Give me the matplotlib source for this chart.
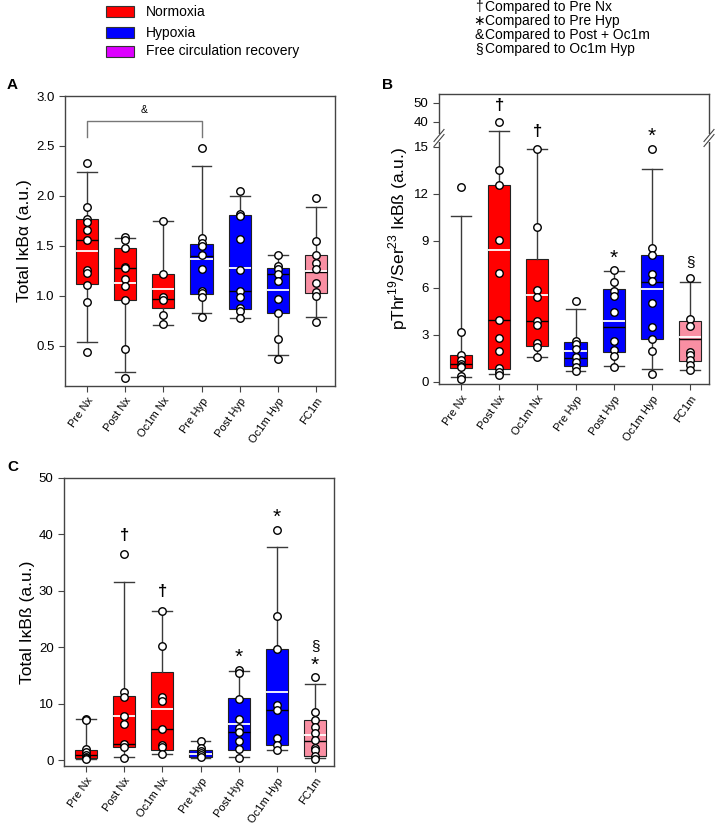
import numpy as np
import matplotlib
matplotlib.use("Agg")
import matplotlib.pyplot as plt
from matplotlib.patches import Rectangle

plt.rcParams['font.family'] = ['Liberation Sans', 'DejaVu Sans']
plt.rcParams['mathtext.fontset'] = 'custom'
plt.rcParams['mathtext.rm'] = 'Liberation Sans'

groups = ['Pre Nx', 'Post Nx', 'Oc1m Nx', 'Pre Hyp', 'Post Hyp', 'Oc1m Hyp', 'FC1m']
nan = np.nan

# ---- panel A: total IkBa ----
a_points = [
    [2.33, 1.89, 1.77, 1.74, 1.66, 1.56, 1.26, 1.23, 1.11, 0.94, 0.44],
    [1.59, 1.56, 1.48, 1.29, 1.28, 1.17, 1.10, 0.96, 0.47, 0.18],
    [1.75, 1.22, 0.99, 0.96, 0.81, 0.72],
    [2.48, 1.58, 1.53, 1.50, 1.41, 1.27, 1.05, 1.03, 0.99, 0.79],
    [2.05, 1.82, 1.80, 1.57, 1.26, 1.05, 0.99, 0.88, 0.85, 0.78],
    [1.41, 1.30, 1.27, 1.22, 1.15, 0.97, 0.83, 0.57, 0.37],
    [1.98, 1.55, 1.41, 1.33, 1.27, 1.13, 1.04, 1.00, 0.74],
]
a_q1 = [1.12, 0.96, 0.88, 1.02, 0.87, 0.83, 1.03]
a_q3 = [1.77, 1.48, 1.22, 1.52, 1.81, 1.28, 1.41]
a_med = [1.56, 1.28, 0.97, 1.40, 1.05, 1.22, 1.24]
a_mean = [1.45, 1.13, 1.07, 1.37, 1.28, 1.06, 1.25]
a_lo = [0.54, 0.24, 0.71, 0.83, 0.78, 0.41, 0.79]
a_hi = [2.24, 1.58, 1.75, 2.30, 2.00, 1.41, 1.89]

# ---- panel B: pThr19/Ser23 IkBb ----
b_points = [
    [12.45, 3.2, 1.70, 1.42, 1.15, 1.05, 0.95, 0.40, 0.22],
    [40.0, 13.5, 12.55, 9.08, 6.93, 3.96, 2.81, 1.98, 0.90, 0.66, 0.45],
    [14.9, 9.91, 5.89, 5.45, 3.91, 3.64, 2.47, 2.21, 1.57],
    [5.15, 2.60, 2.45, 2.08, 1.60, 1.30, 0.98, 0.72],
    [7.13, 6.40, 5.79, 5.49, 4.45, 2.60, 2.04, 1.68, 0.98],
    [14.9, 8.57, 8.10, 6.87, 6.45, 5.06, 3.53, 2.74, 2.00, 0.51],
    [6.62, 4.00, 3.60, 1.89, 1.75, 1.40, 1.10, 0.77],
]
b_q1 = [0.92, 0.85, 2.30, 1.04, 1.89, 2.74, 1.36]
b_q3 = [1.70, 12.55, 7.87, 2.57, 5.93, 8.10, 3.91]
b_med = [1.13, 3.96, 3.91, 1.55, 3.49, 6.40, 2.74]
b_mean = [nan, 8.40, 5.55, 2.00, 3.89, 5.93, 2.89]
b_lo = [0.30, 0.51, 1.57, 0.72, 1.04, 0.81, 0.77]
b_hi = [10.6, 35.0, 14.9, 4.64, 7.10, 13.57, 6.36]

# ---- panel C: total IkBb ----
c_points = [
    [7.3, 7.1, 2.0, 1.4, 0.82, 0.5, 0.3, 0.1],
    [36.5, 12.0, 11.1, 7.86, 6.3, 2.9, 2.3, 0.3],
    [26.5, 20.25, 11.15, 10.4, 5.57, 2.7, 2.23, 1.06],
    [3.3, 2.1, 1.6, 1.3, 0.9, 0.45],
    [16.0, 15.4, 10.9, 7.34, 5.63, 4.9, 3.29, 1.94, 0.35],
    [40.7, 25.6, 19.7, 9.74, 8.9, 3.87, 2.7, 1.7],
    [14.7, 8.57, 7.1, 5.93, 4.75, 3.55, 2.1, 1.82, 0.64, 0.25],
]
c_q1 = [0.35, 2.23, 1.70, 0.47, 1.82, 2.70, 0.64]
c_q3 = [1.76, 11.33, 15.6, 1.70, 10.92, 19.7, 7.10]
c_med = [0.82, 2.88, 5.57, 1.20, 4.93, 8.92, 3.40]
c_mean = [nan, 7.86, 8.98, 1.10, 6.34, 12.09, 4.46]
c_lo = [0.2, 0.6, 1.06, 0.4, 0.47, 1.7, 0.3]
c_hi = [7.22, 31.6, 26.5, 3.29, 15.8, 37.7, 13.4]

# significance marks: (group index, symbol, offset above top point in px)
b_marks = [(1, '†', 16), (2, '†', 17), (4, '*', 12), (5, '*', 12), (6, '§', 16)]
c_marks = [(1, '†', 19), (2, '†', 19), (4, '*', 12), (5, '*', 13), (6, '*', 12), (6, '§', 31)]

box_colors = ['#FF0000', '#FF0000', '#FF0000', '#0000FF', '#0000FF', '#0000FF', '#F98FA3']
legend_labels = ['Normoxia', 'Hypoxia', 'Free circulation recovery']
legend_colors = ['#FF0000', '#0000FF', '#DD00FF']
note_symbols = ['†', '∗', '&', '§']
note_texts = ['Compared to Pre Nx', 'Compared to Pre Hyp', 'Compared to Post + Oc1m', 'Compared to Oc1m Hyp']

W, H = 715, 825
spine_col = '#444444'


def draw_boxes(ax, points, q1, q3, med, mean, lo, hi):
    pos = np.arange(1, len(groups) + 1)
    stats = []
    for i in range(len(groups)):
        stats.append(dict(med=med[i], q1=q1[i], q3=q3[i], whislo=lo[i], whishi=hi[i],
                          mean=mean[i], fliers=[]))
    bp = ax.bxp(stats, positions=pos, widths=0.58, capwidths=0.52, patch_artist=True,
                showmeans=True, meanline=True, showfliers=False,
                boxprops=dict(edgecolor='#222222', linewidth=0.8),
                whiskerprops=dict(color='#3a3a3a', linewidth=1.0),
                capprops=dict(color='#3a3a3a', linewidth=1.0),
                medianprops=dict(color='black', linewidth=1.0),
                meanprops=dict(color='white', linewidth=1.3, linestyle='-'))
    for patch, c in zip(bp['boxes'], box_colors):
        patch.set_facecolor(c)
    for i, vals in enumerate(points):
        ax.plot(np.full(len(vals), pos[i]), vals, 'o', ms=5.4, mfc='white', mec='black',
                mew=1.0, zorder=4, clip_on=False)
    ax.set_xlim(0.42, 7.5)
    ax.set_xticks(pos)
    ax.set_xticklabels(groups, rotation=55, ha='right', rotation_mode='anchor')
    ax.tick_params(direction='out', length=4, width=0.8, colors=spine_col, labelcolor='black',
                   labelsize=9.5)
    ax.tick_params(axis='x', labelsize=8, pad=3)
    for s in ax.spines.values():
        s.set_color(spine_col)
        s.set_linewidth(1.0)


def add_marks(ax, points, marks):
    for gi, sym, off in marks:
        if sym == '*':
            size, weight = 15, 'normal'
        elif sym == '†':
            size, weight = 12, 'bold'
        else:
            size, weight = 11, 'normal'
        ax.annotate(sym, xy=(gi + 1, max(points[gi])), xytext=(0, off),
                    textcoords='offset pixels', ha='center', va='center',
                    fontsize=size, fontweight=weight, annotation_clip=False)


fig = plt.figure(figsize=(W / 100, H / 100), dpi=100)


def px_axes(x0, y0, x1, y1):
    return fig.add_axes([x0 / W, 1 - y1 / H, (x1 - x0) / W, (y1 - y0) / H])


# panel A
axA = px_axes(65, 96, 335, 386)
draw_boxes(axA, a_points, a_q1, a_q3, a_med, a_mean, a_lo, a_hi)
axA.set_ylim(0.1, 3.0)
axA.set_yticks([0.5, 1.0, 1.5, 2.0, 2.5, 3.0])
axA.set_ylabel('Total IκBα (a.u.)', fontsize=12.5, labelpad=3)
axA.plot([1, 1, 4, 4], [2.59, 2.75, 2.75, 2.59], color='#777777', lw=1.0)
axA.text(2.5, 2.86, '&', ha='center', va='center', fontsize=7.5)

# panel B with broken axis (piecewise linear scale)
brk_lo, brk_hi, up_slope = 15.6, 32.0, 0.1213
xp = [-10, brk_lo, brk_hi, 100]
fp = [-10, brk_lo, brk_lo + 0.05, brk_lo + 0.05 + (100 - brk_hi) * up_slope]


def fwd(y):
    return np.interp(y, xp, fp)


def inv(y):
    return np.interp(y, fp, xp)


axB = px_axes(439, 94, 709, 384)
axB.set_yscale('function', functions=(fwd, inv))
draw_boxes(axB, b_points, b_q1, b_q3, b_med, b_mean, b_lo, b_hi)
axB.set_ylim(-0.13, 54.5)
axB.set_yticks([0, 3, 6, 9, 12, 15, 40, 50])
axB.set_yticklabels(['0', '3', '6', '9', '12', '15', '40', '50'])
axB.minorticks_off()
axB.set_ylabel('pThr$^{19}$/Ser$^{23}$ IκBß (a.u.)', fontsize=12.5, labelpad=3)
add_marks(axB, b_points, b_marks)
# break marks on both spines
yb = 1 - (138 - 94) / 290
for xs in (0, 1):
    axB.add_patch(Rectangle((xs - 2 / 270, yb - 4 / 290), 4 / 270, 8 / 290, transform=axB.transAxes,
                            facecolor='white', edgecolor='none', clip_on=False, zorder=5))
    for dy in (-2.5, 2.5):
        axB.plot([xs - 5 / 270, xs + 5 / 270], [yb + (dy - 6) / 290, yb + (dy + 6) / 290],
                 transform=axB.transAxes, color=spine_col, lw=0.8, clip_on=False, zorder=6)

# panel C
axC = px_axes(64, 478, 334, 766)
draw_boxes(axC, c_points, c_q1, c_q3, c_med, c_mean, c_lo, c_hi)
axC.set_ylim(-1.06, 50)
axC.set_yticks([0, 10, 20, 30, 40, 50])
axC.set_ylabel('Total IκBß (a.u.)', fontsize=12.5, labelpad=3)
add_marks(axC, c_points, c_marks)

# panel letters
fig.text(7 / W, 1 - 85 / H, 'A', fontsize=11, fontweight='bold', va='center')
fig.text(382 / W, 1 - 85 / H, 'B', fontsize=11, fontweight='bold', va='center')
fig.text(7 / W, 1 - 467 / H, 'C', fontsize=11, fontweight='bold', va='center')

# legends drawn in figure pixel space
ov = fig.add_axes([0, 0, 1, 1], zorder=-1)
ov.set_xlim(0, W)
ov.set_ylim(H, 0)
ov.axis('off')
for i, (lab, col) in enumerate(zip(legend_labels, legend_colors)):
    yc = [11.5, 32.5, 51][i]
    ov.add_patch(Rectangle((106, yc - 5.5), 28, 11, facecolor=col, edgecolor='#333333', lw=0.8))
    ov.text(146, yc, lab, fontsize=10, va='center', ha='left')
for i, (sym, txt) in enumerate(zip(note_symbols, note_texts)):
    yc = 7 + 14 * i
    ov.text(479, yc, sym, fontsize=10, va='center', ha='center')
    ov.text(485, yc, txt, fontsize=10, va='center', ha='left')

fig.savefig('out.png', dpi=100)
